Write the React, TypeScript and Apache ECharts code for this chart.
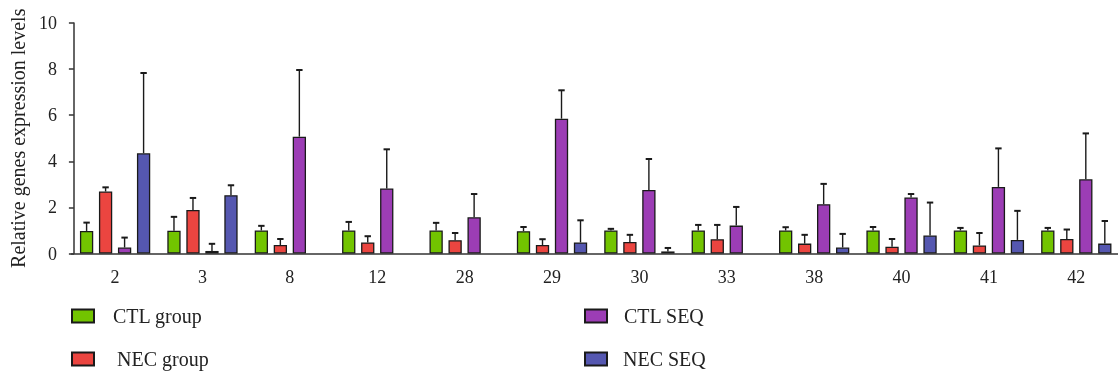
import React, { useEffect, useRef } from "react";
import * as echarts from "echarts";

const categories = ["2", "3", "8", "12", "28", "29", "30", "33", "38", "40", "41", "42"];
const seriesNames = ["CTL group", "NEC group", "CTL SEQ", "NEC SEQ"];
const ctlGroup = [0.98, 0.99, 1.0, 1.0, 1.0, 0.97, 1.0, 1.0, 1.0, 1.0, 1.0, 1.0];
const ctlGroupErr = [1.34, 1.59, 1.2, 1.37, 1.33, 1.15, 1.07, 1.24, 1.14, 1.15, 1.11, 1.11];
const necGroup = [2.69, 1.89, 0.37, 0.48, 0.58, 0.37, 0.5, 0.62, 0.43, 0.29, 0.35, 0.63];
const necGroupErr = [2.87, 2.41, 0.63, 0.75, 0.89, 0.62, 0.81, 1.24, 0.81, 0.63, 0.89, 1.04];
const ctlSeq = [0.26, 0.11, 5.07, 2.82, 1.57, 5.85, 2.76, 1.21, 2.14, 2.43, 2.89, 3.22];
const ctlSeqErr = [0.69, 0.42, 7.96, 4.52, 2.58, 7.08, 4.1, 2.02, 3.02, 2.58, 4.56, 5.21];
const necSeq = [4.35, 2.53, null, null, null, 0.48, 0.09, null, 0.26, 0.78, 0.59, 0.43];
const necSeqErr = [7.83, 2.96, null, null, null, 1.44, 0.24, null, 0.85, 2.21, 1.85, 1.41];
const yTicks = [0, 2, 4, 6, 8, 10];

const colors = ["#72C400", "#EB4540", "#9C3DB5", "#5557B0"];
const FONT = "Liberation Serif";

export default function App() {
  const ref = useRef<HTMLDivElement>(null);
  useEffect(() => {
    if (!ref.current) return;
    const chart = echarts.init(ref.current, undefined, { renderer: "svg" });
    const values = [ctlGroup, necGroup, ctlSeq, necSeq];
    const errs = [ctlGroupErr, necGroupErr, ctlSeqErr, necSeqErr];
    const barW = 13.3;
    const gap = 5.7;
    const barSeries = values.map((v, i) => ({
      type: "bar",
      name: seriesNames[i],
      data: v,
      barWidth: barW,
      barGap: (gap / barW) * 100 + "%",
      itemStyle: { color: colors[i], borderColor: "#1a1a1a", borderWidth: 1.3 },
      z: 2,
    }));
    const errSeries = values.map((v, i) => ({
      type: "custom",
      name: seriesNames[i] + " err",
      data: v
        .map((val, k) => (val == null || errs[i][k] == null ? null : [k, val, errs[i][k]]))
        .filter((d) => d !== null),
      encode: { x: 0, y: 2 },
      z: 1,
      silent: true,
      renderItem: (params: any, api: any) => {
        const k = api.value(0);
        const base = api.coord([k, api.value(1)]);
        const top = api.coord([k, api.value(2)]);
        const off = (i - 1.5) * (barW + gap);
        const x = base[0] + off;
        return {
          type: "group",
          children: [
            {
              type: "line",
              shape: { x1: x, y1: base[1], x2: x, y2: top[1] },
              style: { stroke: "#1a1a1a", lineWidth: 1.4 },
            },
            {
              type: "line",
              shape: { x1: x - 3.2, y1: top[1], x2: x + 3.2, y2: top[1] },
              style: { stroke: "#1a1a1a", lineWidth: 2 },
            },
          ],
        };
      },
    }));
    const legendPos = [
      { left: 71, top: 306, pad: 14 },
      { left: 71, top: 349, pad: 18 },
      { left: 584, top: 306, pad: 12 },
      { left: 584, top: 349, pad: 11 },
    ];
    const legends = seriesNames.map((n, i) => ({
      left: legendPos[i].left,
      top: legendPos[i].top,
      padding: 0,
      data: [n],
      itemWidth: 22,
      itemHeight: 13,
      icon: "rect",
      textStyle: {
        fontFamily: FONT,
        fontSize: 20,
        color: "#222",
        padding: [0, 0, 0, legendPos[i].pad],
      },
    }));
    chart.setOption({
      animation: false,
      grid: { left: 69, top: 23, width: 1051, height: 230.5 },
      xAxis: {
        type: "category",
        data: categories,
        axisLine: { lineStyle: { color: "#333", width: 1.5 } },
        axisTick: { alignWithLabel: true, interval: 0, length: 5, lineStyle: { color: "#333", width: 1.5 } },
        axisLabel: { fontFamily: FONT, fontSize: 18, color: "#222", margin: 14, interval: 0 },
      },
      yAxis: {
        type: "value",
        min: yTicks[0],
        max: yTicks[yTicks.length - 1],
        interval: 2,
        offset: -2.5,
        name: "Relative genes expression levels",
        nameLocation: "middle",
        nameGap: 43,
        nameTextStyle: { fontFamily: FONT, fontSize: 20, color: "#222" },
        axisLine: { show: true, lineStyle: { color: "#333", width: 1.5 } },
        axisTick: { show: true, length: 5, lineStyle: { color: "#333", width: 1.5 } },
        axisLabel: { fontFamily: FONT, fontSize: 18, color: "#222", margin: 17 },
        splitLine: { show: false },
      },
      legend: legends,
      series: [...barSeries, ...errSeries],
    });
    return () => chart.dispose();
  }, []);
  return <div ref={ref} style={{ position: "fixed", left: 0, top: 0, width: 1130, height: 375 }} />;
}
